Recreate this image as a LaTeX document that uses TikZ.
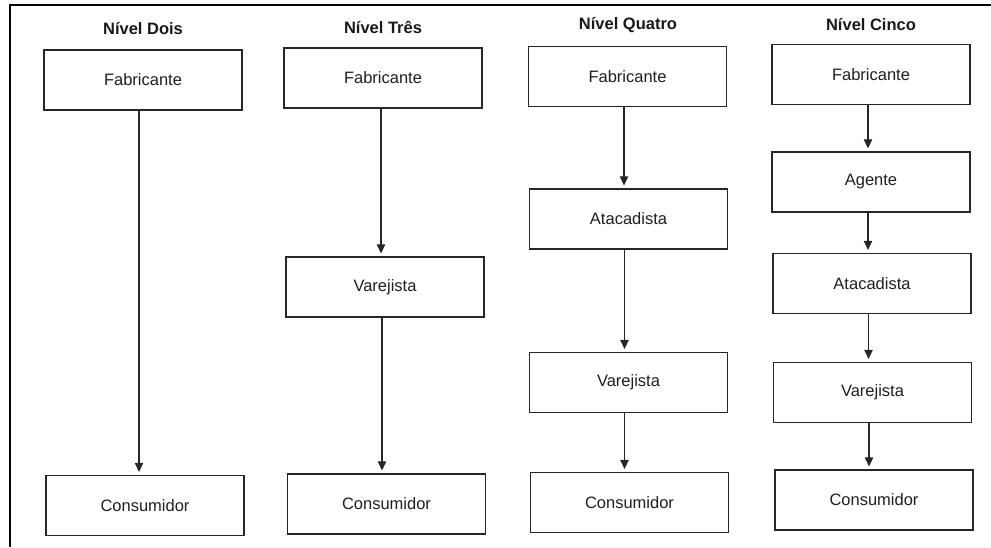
\documentclass[tikz,border=0pt]{standalone}
\usepackage{fontspec}
\setmainfont{Liberation Sans}
\usetikzlibrary{arrows.meta}
\begin{document}
\begin{tikzpicture}[x=1pt,y=-1pt,
  box/.style={draw=black!85,line width=1.3pt,minimum width=198pt,minimum height=60pt,inner sep=0pt,font=\fontsize{16.5}{19}\selectfont,text=black!88},
  title/.style={font=\fontsize{16.5}{19}\selectfont\bfseries,text=black!90,inner sep=0pt},
  flow/.style={draw=black!85,line width=1.2pt,shorten >=3pt,-{Triangle[width=8.5pt,length=9pt]}}]
\useasboundingbox (0,0) rectangle (991,547);
\draw[line width=2.2pt] (10,547) -- (10,5) -- (991,5);
% titles
\node[title] (t1) at (143,29) {Nível Dois};
\node[title] (t2) at (383,27) {Nível Três};
\node[title] (t3) at (628,25) {Nível Quatro};
\node[title] (t4) at (871,25) {Nível Cinco};
% column 1
\node[box] (a1) at (143,80) {Fabricante};
\node[box] (a2) at (145,505.5) {Consumidor};
% column 2
\node[box] (b1) at (383,78) {Fabricante};
\node[box] (b2) at (385,287) {Varejista};
\node[box] (b3) at (386.5,504) {Consumidor};
% column 3
\node[box] (c1) at (627.5,76.5) {Fabricante};
\node[box] (c2) at (628.5,219) {Atacadista};
\node[box] (c3) at (628.5,382.5) {Varejista};
\node[box] (c4) at (629.5,502.5) {Consumidor};
% column 4
\node[box] (d1) at (871,74.5) {Fabricante};
\node[box] (d2) at (871,182) {Agente};
\node[box] (d3) at (872,283.5) {Atacadista};
\node[box] (d4) at (872.5,392.5) {Varejista};
\node[box] (d5) at (874,500) {Consumidor};
% arrows
\foreach \s/\t/\dx in {a1/a2/-4, b1/b2/-2, b2/b3/-3, c1/c2/-3.5, c2/c3/-4, c3/c4/-4, d1/d2/-3, d2/d3/-3, d3/d4/-3.5, d4/d5/-3.5}{
  \draw[flow] ([xshift=\dx pt]\s.south) -- ([xshift=\dx pt]\s.south |- \t.north);
}
\end{tikzpicture}
\end{document}
